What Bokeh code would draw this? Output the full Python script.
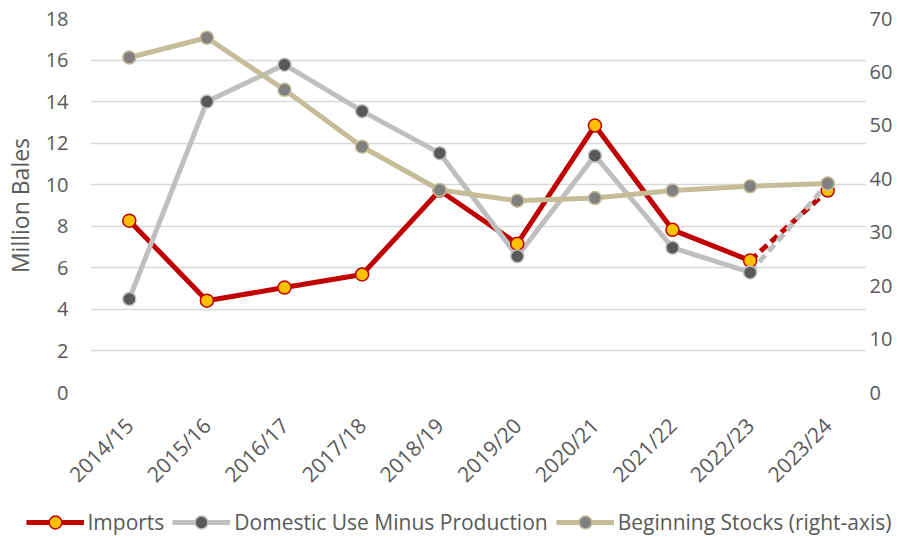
from bokeh.plotting import figure
from bokeh.layouts import column, row
from bokeh.models import Range1d, LinearAxis, FactorRange, Legend, LegendItem, FixedTicker
from bokeh.embed import file_html
from bokeh.resources import INLINE

years = ["2014/15", "2015/16", "2016/17", "2017/18", "2018/19",
         "2019/20", "2020/21", "2021/22", "2022/23", "2023/24"]
imports = [8.27, 4.42, 5.05, 5.68, 9.72, 7.16, 12.85, 7.83, 6.35, 9.72]
domestic = [4.50, 14.0, 15.78, 13.54, 11.52, 6.56, 11.40, 6.97, 5.78, 10.05]
stocks = [62.7, 66.4, 56.65, 46.0, 37.9, 35.9, 36.4, 37.8, 38.6, 39.1]
left_ticks = [0, 2, 4, 6, 8, 10, 12, 14, 16, 18]
right_ticks = [0, 10, 20, 30, 40, 50, 60, 70]
series_names = ["Imports", "Domestic Use Minus Production", "Beginning Stocks (right-axis)"]

FONT = "Open Sans"
TXT = "#595959"
RED = "#C00000"
YEL = "#FFC000"
GRY = "#BFBFBF"
DGRY = "#595959"
TAN = "#C4BD97"
MGRY = "#808080"

p = figure(width=917, height=505, x_range=FactorRange(*years, range_padding=0),
           y_range=Range1d(0, 18), output_backend="svg", toolbar_location=None,
           min_border_left=90, min_border_right=51, min_border_top=18, min_border_bottom=113)
p.extra_y_ranges = {"stocks": Range1d(0, 70)}
p.outline_line_color = None
p.background_fill_color = "white"

p.xgrid.grid_line_color = None
p.ygrid.grid_line_color = "#D9D9D9"
p.ygrid.grid_line_width = 1.5

xax = p.xaxis[0]
lax = p.yaxis[0]
lax.ticker = FixedTicker(ticks=left_ticks)
rax = LinearAxis(y_range_name="stocks", ticker=FixedTicker(ticks=right_ticks))

for ax in [xax, lax, rax]:
    ax.axis_line_color = None
    ax.major_tick_line_color = None
    ax.minor_tick_line_color = None
    ax.major_tick_out = 0
    ax.major_tick_in = 0
    ax.minor_tick_out = 0
    ax.minor_tick_in = 0
    ax.major_label_text_font = FONT
    ax.major_label_text_color = TXT
    ax.major_label_text_font_size = "20px"

lax.axis_label = "Million Bales"
lax.axis_label_text_font = FONT
lax.axis_label_text_font_style = "normal"
lax.axis_label_text_color = TXT
lax.axis_label_text_font_size = "23px"
lax.major_label_standoff = 22
lax.axis_label_standoff = 7
xax.major_label_orientation = 0.785398
xax.major_label_standoff = 29
xax.major_label_text_font_size = "21px"
rax.major_label_standoff = 3
p.add_layout(rax, "right")


def draw(fig, visible=True):
    r_imp = fig.line(years[:9], imports[:9], line_color=RED, line_width=5, visible=visible)
    fig.line(years[8:], imports[8:], line_color=RED, line_width=5, line_dash="9 5", visible=visible)
    r_dom = fig.line(years[:9], domestic[:9], line_color=GRY, line_width=5, visible=visible)
    fig.line(years[8:], domestic[8:], line_color=GRY, line_width=5, line_dash="9 5", visible=visible)
    m_imp = fig.scatter(years, imports, size=13, fill_color=YEL, line_color=RED, line_width=1.5,
                        visible=visible)
    m_dom = fig.scatter(years, domestic, size=13, fill_color=DGRY, line_color=GRY, line_width=1.5,
                        visible=visible)
    r_stk = fig.line(years, stocks, line_color=TAN, line_width=5, y_range_name="stocks",
                     visible=visible)
    m_stk = fig.scatter(years, stocks, size=13, fill_color=MGRY, line_color=TAN, line_width=1.5,
                        y_range_name="stocks", visible=visible)
    return [(r_imp, m_imp), (r_dom, m_dom), (r_stk, m_stk)]


draw(p)

# legend strip below the chart
lf = figure(width=917, height=34, x_range=FactorRange(*years, range_padding=0),
            y_range=Range1d(0, 18), output_backend="svg", toolbar_location=None,
            x_axis_location=None, y_axis_location=None,
            min_border_left=0, min_border_right=0, min_border_top=0, min_border_bottom=0)
lf.extra_y_ranges = {"stocks": Range1d(0, 70)}
lf.outline_line_color = None
lf.xgrid.grid_line_color = None
lf.ygrid.grid_line_color = None
pairs = draw(lf, visible=False)

legend = Legend(items=[LegendItem(label=n, renderers=list(rs)) for n, rs in zip(series_names, pairs)],
                orientation="horizontal", location="center")
legend.border_line_color = None
legend.background_fill_alpha = 0
legend.padding = 0
legend.margin = 0
legend.spacing = 8
legend.label_standoff = 4
legend.glyph_width = 58
legend.glyph_height = 32
legend.label_text_font = FONT
legend.label_text_font_size = "21px"
legend.label_text_color = TXT
lf.add_layout(legend, "center")

layout = column(p, row(lf), spacing=0)
open("out.html", "w").write(file_html(layout, INLINE))
